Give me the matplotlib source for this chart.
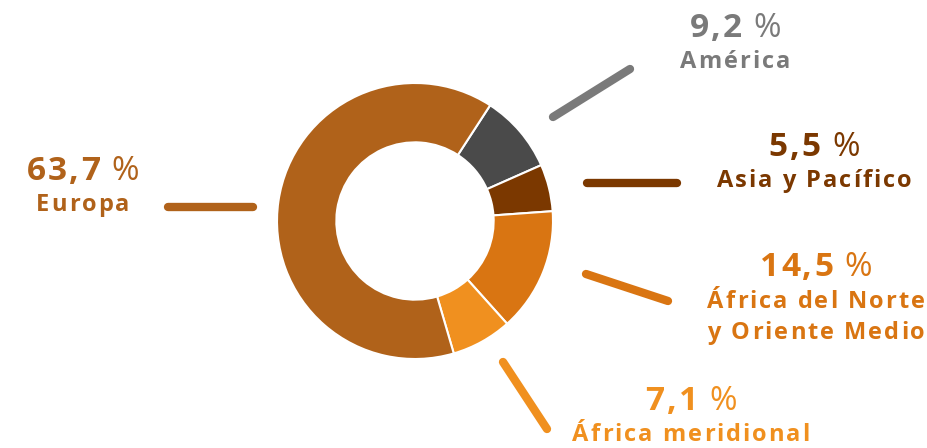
import matplotlib
matplotlib.use("Agg")
import matplotlib.pyplot as plt
from matplotlib.offsetbox import TextArea, HPacker, AnnotationBbox

# ---- data ----
regions = ["América", "Asia y Pacífico", "África del Norte\ny Oriente Medio",
           "África meridional", "Europa"]
values = [9.2, 5.5, 14.5, 7.1, 63.7]
value_labels = ["9,2", "5,5", "14,5", "7,1", "63,7"]
colors = ["#4A4A4A", "#7B3800", "#D97512", "#F0901F", "#B0621A"]
text_colors = ["#7A7A7A", "#7B3800", "#D97512", "#F0901F", "#B0621A"]
line_colors = ["#7A7A7A", "#7B3800", "#D97512", "#F0901F", "#B0621A"]

W, H = 927, 448
fig = plt.figure(figsize=(W / 100, H / 100), dpi=100)
ax = fig.add_axes([0, 0, 1, 1])

def Y(y):
    return H - y

cx, cy, R = 415, 221, 138
ax.pie(values, colors=colors, startangle=57, counterclock=False,
       center=(cx, Y(cy)), radius=R, frame=True,
       wedgeprops=dict(width=R * 0.43, edgecolor="white", linewidth=1.5))
ax.set_xlim(0, W)
ax.set_ylim(0, H)
ax.set_aspect("equal")
ax.axis("off")

# layout: (label center x, number center y px, leader line start, end)
layout = [
    (735, 28, (553, 117), (630, 69)),
    (814, 147, (587, 183), (677, 183)),
    (816, 268, (586, 274), (668, 301)),
    (691, 401, (503, 362), (547, 429)),
    (83, 171, (168, 207), (253, 207)),
]

FONT = "Open Sans"


def tracked(s, props, track):
    kids = [TextArea(ch if ch != " " else "\u00a0", textprops=props) for ch in s]
    return HPacker(children=kids, align="baseline", pad=0, sep=track)


for i, (lx, ly, p0, p1) in enumerate(layout):
    col = text_colors[i]
    ax.plot([p0[0], p1[0]], [Y(p0[1]), Y(p1[1])], color=line_colors[i],
            lw=6, solid_capstyle="round")
    bold_n = dict(family=FONT, weight="bold", size=24, color=col)
    reg_n = dict(family=FONT, weight="normal", size=24, color=col)
    num = tracked(value_labels[i], bold_n, 1.6)
    sp = TextArea("\u00a0", textprops=reg_n)
    pct = TextArea("%", textprops=reg_n)
    row = HPacker(children=[num, sp, pct], align="baseline", pad=0, sep=1.0)
    ax.add_artist(AnnotationBbox(row, (lx, Y(ly)), frameon=False,
                                 box_alignment=(0.5, 0.5), pad=0))
    lab_p = dict(family=FONT, weight="bold", size=17, color=col)
    for j, line in enumerate(regions[i].split("\n")):
        r = tracked(line, lab_p, 1.45)
        ax.add_artist(AnnotationBbox(r, (lx, Y(ly + 34 + 31 * j)), frameon=False,
                                     box_alignment=(0.5, 0.5), pad=0))

fig.savefig("out.png", dpi=100, facecolor="white")
